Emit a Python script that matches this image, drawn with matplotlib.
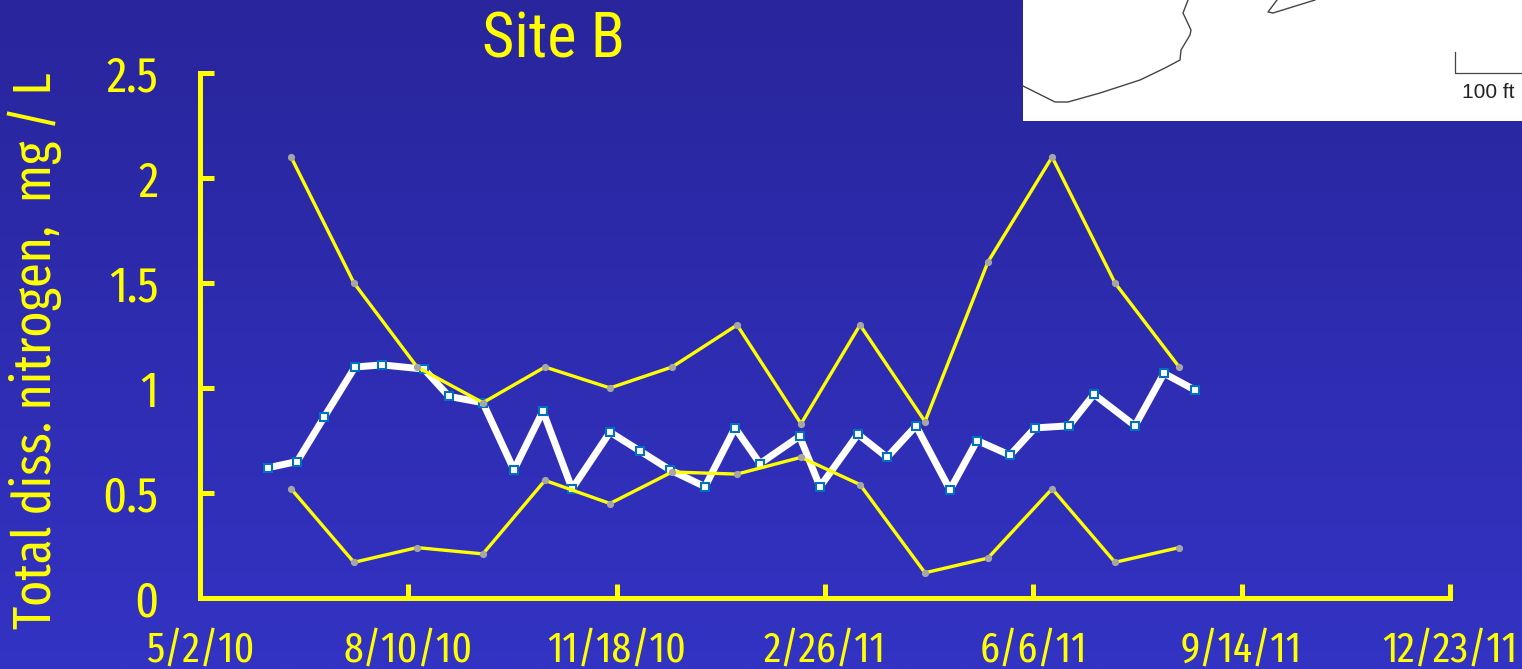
import numpy as np
import matplotlib
matplotlib.use("Agg")
import matplotlib.pyplot as plt
from matplotlib import font_manager as fm

title = "Site B"
ylabel = "Total diss. nitrogen,  mg / L"
x_tick_days = [0, 100, 200, 300, 400, 500, 600]
x_tick_labels = ["5/2/10", "8/10/10", "11/18/10", "2/26/11", "6/6/11", "9/14/11", "12/23/11"]
y_ticks = [0, 0.5, 1, 1.5, 2, 2.5]
y_tick_labels = ["0", "0.5", "1", "1.5", "2", "2.5"]

# days since 5/2/10
mean_days = [32.6, 46.6, 59.5, 74.4, 87.4, 107.5, 119.5, 135.8, 150.7, 164.6, 178.6,
             196.8, 211.2, 225.6, 242.4, 256.8, 268.8, 287.8, 297.6, 315.8, 329.8,
             343.7, 360, 373, 388.8, 400.8, 417.1, 429.1, 448.8, 462.7, 477.6]
mean_vals = [0.62, 0.65, 0.86, 1.10, 1.11, 1.09, 0.96, 0.93, 0.61, 0.89, 0.52,
             0.79, 0.70, 0.61, 0.53, 0.81, 0.64, 0.77, 0.53, 0.78, 0.67,
             0.82, 0.515, 0.75, 0.68, 0.81, 0.82, 0.97, 0.82, 1.07, 0.99]
range_days = [43.7, 73.9, 104.2, 135.8, 165.6, 196.8, 226.6, 257.8, 288.5, 316.8, 348, 378.2, 409, 439.2, 470]
upper_vals = [2.1, 1.5, 1.1, 0.93, 1.1, 1.0, 1.1, 1.3, 0.83, 1.3, 0.84, 1.6, 2.1, 1.5, 1.1]
lower_vals = [0.52, 0.17, 0.24, 0.21, 0.56, 0.45, 0.60, 0.59, 0.67, 0.54, 0.12, 0.19, 0.52, 0.17, 0.24]

# map fragment in the white inset, figure pixels
coast_x = [1023, 1055, 1068, 1100, 1140, 1165, 1180, 1181, 1190, 1191, 1183, 1188]
coast_y = [86, 102, 102, 93, 80, 68, 60, 50, 35, 30, 13, 0]
island_x = [1277, 1268, 1273, 1315]
island_y = [0, 12, 13, 0]
scale_x = [1455, 1455, 1522]
scale_y = [52, 73, 73]

W, H = 1522, 669
YEL = "#ffff00"
names = {f.name for f in fm.fontManager.ttflist}
def pick(*cands):
    for c in cands:
        if c in names:
            return c
    return "Liberation Sans"
narrow = pick("Fira Sans Extra Condensed", "Sofia Sans Extra Condensed", "Roboto Condensed")
titlef = pick("Roboto Condensed", "Fira Sans Condensed")

fig = plt.figure(figsize=(W / 100, H / 100), dpi=100)

bg = fig.add_axes([0, 0, 1, 1], zorder=0)
c0 = np.array([0x29, 0x25, 0x9c]) / 255
c1 = np.array([0x33, 0x33, 0xc4]) / 255
t = np.linspace(0, 1, 256)[:, None, None]
bg.imshow(c0 * (1 - t) + c1 * t, aspect="auto", extent=[0, W, H, 0])
bg.fill_between([1023, W], [0, 0], [121, 121], color="white", lw=0, zorder=2)
for px, py, lw in [(coast_x, coast_y, 1.0), (island_x, island_y, 1.0), (scale_x, scale_y, 0.9)]:
    bg.plot(px, py, color="#444444", lw=lw, zorder=3)
bg.text(1462, 92, "100 ft", family="Liberation Sans", fontsize=15, color="#222222",
        va="center", ha="left", zorder=3, clip_on=True)
bg.set_xlim(0, W)
bg.set_ylim(H, 0)
bg.axis("off")

ax = fig.add_axes([200 / W, 1 - 598 / H, 1250 / W, 525 / H], zorder=1)
ax.patch.set_alpha(0)
ax.plot(mean_days, mean_vals, color="white", lw=5.0, zorder=3, solid_joinstyle="round",
        clip_on=False)
ax.plot(mean_days, mean_vals, ls="none", marker="s", ms=6.2, mfc="white", mec="#0070c0",
        mew=1.5, zorder=4, clip_on=False)
for vals in (upper_vals, lower_vals):
    ax.plot(range_days, vals, color=YEL, lw=2.4, zorder=5, clip_on=False)
    ax.plot(range_days, vals, ls="none", marker="o", ms=5.2, mfc="#a6a6a6", mec="none",
            zorder=6, clip_on=False)

ax.set_xlim(0, 600)
ax.set_ylim(0, 2.5)
ax.set_xticks(x_tick_days, x_tick_labels, family=narrow, fontsize=31, color=YEL)
ax.set_yticks(y_ticks, y_tick_labels, family=narrow, fontsize=36, color=YEL)
ax.tick_params(axis="x", direction="in", length=10, width=3.6, color=YEL, pad=23)
ax.tick_params(axis="y", direction="in", length=10, width=3.6, color=YEL, pad=30)
for s in ("top", "right"):
    ax.spines[s].set_visible(False)
for s in ("left", "bottom"):
    ax.spines[s].set_color(YEL)
    ax.spines[s].set_linewidth(3.6)

fig.text(553 / W, 1 - 40 / H, title, family=titlef, fontsize=45, color=YEL,
         ha="center", va="center")
fig.text(35 / W, 1 - 351 / H, ylabel, family=narrow, fontsize=39, color=YEL,
         rotation=90, ha="center", va="center")

fig.savefig("out.png", dpi=100)
